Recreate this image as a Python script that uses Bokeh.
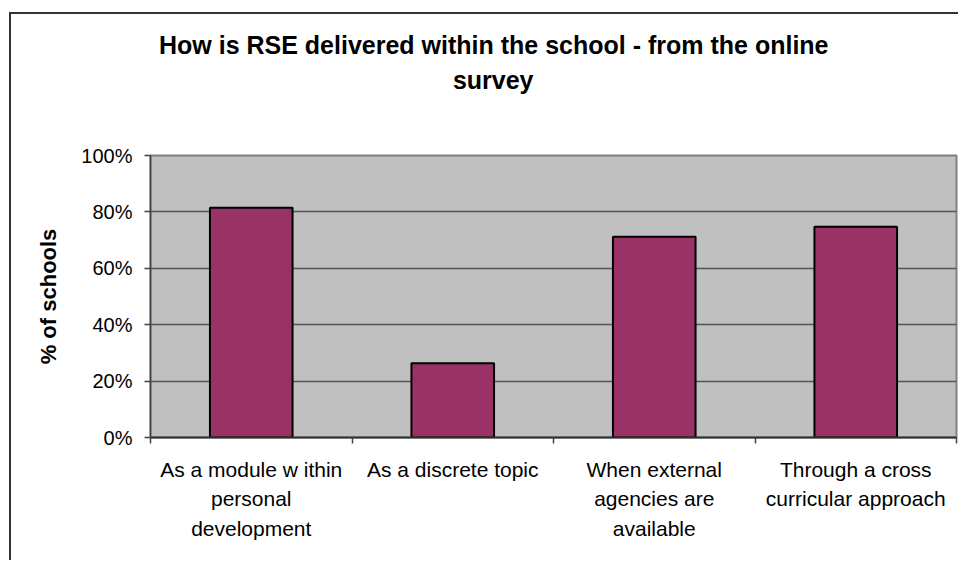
from bokeh.plotting import figure
from bokeh.models import FixedTicker, Range1d, Title
from bokeh.embed import file_html
from bokeh.resources import INLINE

# ---- data ----
categories = [
    "As a module w ithin\npersonal\ndevelopment",
    "As a discrete topic",
    "When external\nagencies are\navailable",
    "Through a cross\ncurricular approach",
]
values = [81.5, 26.3, 71.2, 74.7]          # % of schools
y_ticks = [0, 20, 40, 60, 80, 100]
y_tick_labels = ["0%", "20%", "40%", "60%", "80%", "100%"]
title_lines = ["How is RSE delivered within the school - from the online", "survey"]
y_axis_title = "% of schools"

# ---- layout constants ----
OFF_X, OFF_Y = 9, 12        # position of the outer chart-area border
BW = 2                       # border width
W, H = 949, 548
ML, MT, MR, MB = 139, 141, 4, 125
FONT = "Liberation Sans"

n = len(categories)
centers = [i + 0.5 for i in range(n)]
boundaries = [i for i in range(n + 1)]

p = figure(width=W, height=H, x_range=Range1d(0, n), y_range=Range1d(0, 100),
           output_backend="svg", toolbar_location=None,
           min_border_left=ML, min_border_top=MT, min_border_right=MR, min_border_bottom=MB)
p.styles = {
    "margin-left": f"{OFF_X}px",
    "margin-top": f"{OFF_Y}px",
    "border-left": f"{BW}px solid #333333",
    "border-top": f"{BW}px solid #333333",
}
p.title.text = ""
p.background_fill_color = "#C0C0C0"
p.border_fill_color = "white"
p.outline_line_color = "#808080"
p.outline_line_width = 2

p.vbar(x=centers, top=values, bottom=0, width=0.41,
       fill_color="#993366", line_color="black", line_width=2)

# grid
p.xgrid.visible = False
p.ygrid.ticker = FixedTicker(ticks=y_ticks)
p.ygrid.grid_line_color = "#555555"
p.ygrid.grid_line_width = 1.5

# y axis
ya = p.yaxis[0]
ya.ticker = FixedTicker(ticks=y_ticks)
ya.major_label_overrides = {t: l for t, l in zip(y_ticks, y_tick_labels)}
ya.major_tick_out = 6
ya.major_tick_in = 0
ya.minor_tick_out = 0
ya.minor_tick_in = 0
ya.axis_line_color = "#404040"
ya.axis_line_width = 1.5
ya.major_tick_line_color = "#404040"
ya.major_tick_line_width = 1.5
ya.major_label_text_font = FONT
ya.major_label_text_font_size = "20px"
ya.major_label_text_color = "black"
ya.major_label_standoff = 12
ya.axis_label = y_axis_title
ya.axis_label_text_font = FONT
ya.axis_label_text_font_style = "bold"
ya.axis_label_text_font_size = "22px"
ya.axis_label_text_color = "black"
ya.axis_label_standoff = 17

# x axis
xa = p.xaxis[0]
xa.ticker = FixedTicker(ticks=centers, minor_ticks=boundaries)
xa.major_label_overrides = {c: lab for c, lab in zip(centers, categories)}
xa.major_tick_out = 0
xa.major_tick_in = 0
xa.minor_tick_out = 6
xa.minor_tick_in = 0
xa.minor_tick_line_color = "#404040"
xa.minor_tick_line_width = 1.5
xa.axis_line_color = "#303030"
xa.axis_line_width = 2
xa.major_label_text_font = FONT
xa.major_label_text_font_size = "21px"
xa.major_label_text_color = "black"
xa.major_label_text_line_height = 1.3
xa.major_label_standoff = 14

# chart title (two stacked lines, centred on the chart area), with a blank spacer slot
title_style = dict(text_font=FONT, text_font_style="bold", text_font_size="25px", text_color="black")
spacer = Title(text=" ", align="right", standoff=29, **title_style)
t2 = Title(text=title_lines[1], align="right", offset=423, standoff=5, **title_style)
t1 = Title(text=title_lines[0], align="right", offset=128, standoff=5, **title_style)
p.add_layout(spacer, "above")
p.add_layout(t2, "above")
p.add_layout(t1, "above")

open("out.html", "w").write(file_html(p, INLINE))
